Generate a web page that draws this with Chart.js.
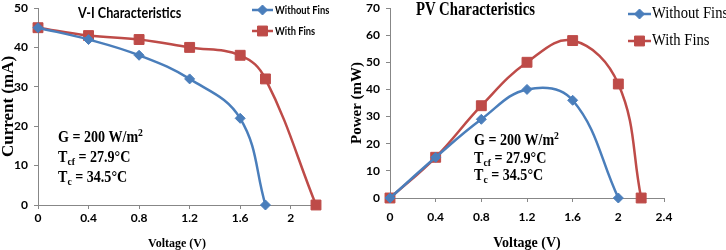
<!DOCTYPE html>
<html lang="en">
<head>
    <meta charset="UTF-8">
    <title>V-I and PV Characteristics</title>
    <script src="https://cdn.jsdelivr.net/npm/chart.js"></script>
    <style>
        body { margin: 0; background: #fff; }
        .wrap { position: relative; width: 726px; height: 250px; overflow: hidden; }
        .panel { position: absolute; top: 0; height: 250px; }
        #viPanel { left: 0; width: 348px; }
        #pvPanel { left: 348px; width: 378px; }
        .label { position: absolute; color: #000; white-space: nowrap; transform-origin: left center; }
        .chart-title { font-weight: bold; }
        .note { font-family: "Liberation Serif", "Times New Roman", serif; font-weight: bold; font-size: 16px; transform: scaleX(0.88); }
        .note sub, .note sup { font-size: 11px; line-height: 0; }
        .note sub { vertical-align: -3px; }
        .note sup { vertical-align: 6px; }
    </style>
</head>
<body>
    <div class="wrap">
        <div class="panel" id="viPanel"><canvas id="viChart" width="348" height="250"></canvas></div>
        <div class="panel" id="pvPanel"><canvas id="pvChart" width="378" height="250"></canvas></div>

        <!-- titles and test conditions -->
        <div class="label chart-title" style="left:78px; top:3px; font-family:Lato, sans-serif; font-size:15px; transform:scaleX(0.84);">V-I Characteristics</div>
        <div class="label chart-title" style="left:416px; top:-1px; font-family:'Liberation Serif', serif; font-size:18px; transform:scaleX(0.82);">PV Characteristics</div>

        <div class="label note" style="left:58px; top:127px; line-height:20px;">
            G = 200 W/m<sup>2</sup><br>T<sub>cf</sub> = 27.9°C<br>T<sub>c</sub> = 34.5°C
        </div>
        <div class="label note" style="left:474px; top:131px; line-height:17.5px;">
            G = 200 W/m<sup>2</sup><br>T<sub>cf</sub> = 27.9°C<br>T<sub>c</sub> = 34.5°C
        </div>
    </div>

    <script>
        // V-I data (voltage in V, current in mA)
        const viVoltsNoFins = [0, 0.4, 0.8, 1.2, 1.6, 1.8];
        const viCurrentNoFins = [45, 42, 38, 32, 22, 0];
        const viVoltsFins = [0, 0.4, 0.8, 1.2, 1.6, 1.8, 2.2];
        const viCurrentFins = [45, 43, 42, 40, 38, 32, 0];

        // PV data (voltage in V, power in mW)
        const pvVoltsNoFins = [0, 0.4, 0.8, 1.2, 1.6, 2.0];
        const pvPowerNoFins = [0, 15, 29, 40, 36, 0];
        const pvVoltsFins = [0, 0.4, 0.8, 1.2, 1.6, 2.0, 2.2];
        const pvPowerFins = [0, 15, 34, 50, 58, 42, 0];

        const seriesNames = ['Without Fins', 'With Fins'];

        const BLUE = '#4A7EBB';
        const RED = '#BE4B48';
        const AXIS = '#878787';

        Chart.defaults.font.family = 'Lato, sans-serif';
        Chart.defaults.color = '#000';

        function points(xs, ys) {
            return xs.map((x, i) => ({ x: x, y: ys[i] }));
        }

        function series(label, data, color, style, radius) {
            return {
                label: label,
                data: data,
                borderColor: color,
                backgroundColor: color,
                pointBackgroundColor: color,
                pointBorderColor: color,
                pointStyle: style,
                pointRadius: radius,
                pointBorderWidth: 1,
                borderWidth: 2.5,
                tension: 0.4,
                clip: false
            };
        }

        // excel-like tick text: 2 instead of 2.0
        const voltLabel = v => String(+v.toFixed(2));

        // legend drawn inside the plot, Excel style (line + marker + text)
        const insideLegend = {
            id: 'insideLegend',
            afterDraw(chart, args, opts) {
                const ctx = chart.ctx;
                chart.data.datasets.forEach((ds, i) => {
                    const y = opts.y + i * opts.gap;
                    ctx.save();
                    ctx.strokeStyle = ds.borderColor;
                    ctx.lineWidth = ds.borderWidth;
                    ctx.beginPath();
                    ctx.moveTo(opts.x, y);
                    ctx.lineTo(opts.x + opts.lineLen, y);
                    ctx.stroke();
                    ctx.fillStyle = ds.pointBackgroundColor;
                    ctx.strokeStyle = ds.pointBorderColor;
                    ctx.lineWidth = 1;
                    Chart.helpers.drawPoint(ctx, { pointStyle: ds.pointStyle, radius: ds.pointRadius, borderWidth: 1, rotation: 0 },
                        opts.x + opts.lineLen / 2, y);
                    ctx.translate(opts.x + opts.lineLen + opts.textGap, y);
                    ctx.scale(opts.squeeze, 1);
                    ctx.font = opts.font;
                    ctx.fillStyle = '#000';
                    ctx.textBaseline = 'middle';
                    ctx.fillText(ds.label, 0, 0);
                    ctx.restore();
                });
            }
        };

        function fixWidth(w) {
            return scale => {
                scale.width = w;
                scale.paddingTop = 0;
                scale.paddingBottom = 0;
            };
        }
        function fixHeight(h) {
            return scale => {
                scale.height = h;
                scale.paddingLeft = 0;
                scale.paddingRight = 0;
            };
        }

        const tickFont = { family: 'Lato, sans-serif', weight: 'bold', size: 12 };

        // V-I chart
        new Chart(document.getElementById('viChart'), {
            type: 'line',
            data: {
                datasets: [
                    series(seriesNames[0], points(viVoltsNoFins, viCurrentNoFins), BLUE, 'rectRot', 5),
                    series(seriesNames[1], points(viVoltsFins, viCurrentFins), RED, 'rect', 7)
                ]
            },
            options: {
                responsive: false,
                animation: false,
                layout: { padding: { top: 5, right: 32, bottom: 0, left: 0 } },
                plugins: {
                    legend: { display: false },
                    tooltip: { enabled: false },
                    insideLegend: { x: 252, y: 10, gap: 21, lineLen: 21, textGap: 2, squeeze: 0.85, font: 'bold 11px Lato, sans-serif' }
                },
                scales: {
                    x: {
                        type: 'linear',
                        min: 0,
                        max: 2.2,
                        ticks: { stepSize: 0.4, includeBounds: false, font: tickFont, padding: 2, maxRotation: 0, callback: voltLabel },
                        grid: { drawOnChartArea: false, tickLength: 4, color: AXIS },
                        border: { color: AXIS },
                        title: { display: true, text: 'Voltage (V)', font: { family: 'Liberation Serif', weight: 'bold', size: 12, lineHeight: 1 }, padding: { top: 1, bottom: 0 } },
                        afterFit: fixHeight(45)
                    },
                    y: {
                        min: 0,
                        max: 50,
                        ticks: { stepSize: 10, font: tickFont, padding: 6 },
                        grid: { drawOnChartArea: false, tickLength: 4, color: AXIS },
                        border: { color: AXIS },
                        title: { display: true, text: 'Current (mA)', font: { family: 'Liberation Serif', weight: 'bold', size: 17, lineHeight: 1 }, padding: { top: 0, bottom: 0 } },
                        afterFit: fixWidth(38)
                    }
                }
            },
            plugins: [insideLegend]
        });

        // PV chart
        new Chart(document.getElementById('pvChart'), {
            type: 'line',
            data: {
                datasets: [
                    series(seriesNames[0], points(pvVoltsNoFins, pvPowerNoFins), BLUE, 'rectRot', 5),
                    series(seriesNames[1], points(pvVoltsFins, pvPowerFins), RED, 'rect', 7)
                ]
            },
            options: {
                responsive: false,
                animation: false,
                layout: { padding: { top: 6, right: 62, bottom: 0, left: 0 } },
                plugins: {
                    legend: { display: false },
                    tooltip: { enabled: false },
                    insideLegend: { x: 280, y: 14, gap: 27, lineLen: 23, textGap: 1, squeeze: 0.86, font: '17px "Liberation Serif", serif' }
                },
                scales: {
                    x: {
                        type: 'linear',
                        min: 0,
                        max: 2.4,
                        ticks: { stepSize: 0.4, font: tickFont, padding: 8, maxRotation: 0, callback: voltLabel },
                        grid: { drawOnChartArea: false, tickLength: 4, color: AXIS },
                        border: { color: AXIS },
                        title: { display: true, text: 'Voltage (V)', font: { family: 'Liberation Serif', weight: 'bold', size: 14, lineHeight: 1 }, padding: { top: 5, bottom: 0 } },
                        afterFit: fixHeight(52)
                    },
                    y: {
                        min: 0,
                        max: 70,
                        ticks: { stepSize: 10, font: tickFont, padding: 6 },
                        grid: { drawOnChartArea: false, tickLength: 4, color: AXIS },
                        border: { color: AXIS },
                        title: { display: true, text: 'Power (mW)', font: { family: 'Liberation Serif', weight: 'bold', size: 15, lineHeight: 1 }, padding: { top: 2, bottom: 0 } },
                        afterFit: fixWidth(42)
                    }
                }
            },
            plugins: [insideLegend]
        });
    </script>
</body>
</html>
